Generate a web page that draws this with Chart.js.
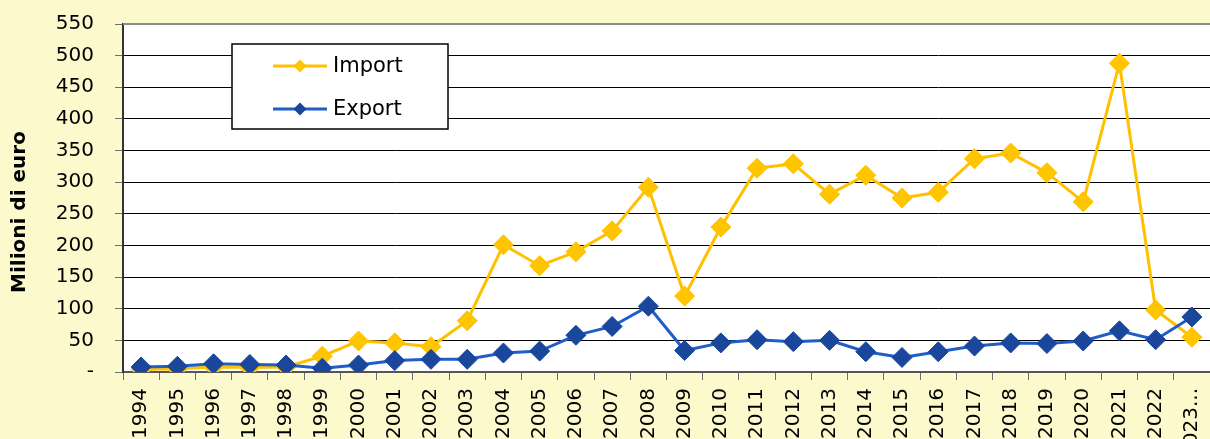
<!DOCTYPE html>
<html>
<head>
<meta charset="utf-8">
<script src="https://cdn.jsdelivr.net/npm/chart.js@4/dist/chart.umd.min.js"></script>
<style>
  html, body { margin: 0; padding: 0; background: #FCFACD; overflow: hidden; }
  #wrap { width: 1210px; height: 439px; }
</style>
</head>
<body>
<div id="wrap"><canvas id="c" width="1210" height="439"></canvas></div>
<script>
// Anni (asse delle categorie)
const years = ['1994','1995','1996','1997','1998','1999','2000','2001','2002','2003',
  '2004','2005','2006','2007','2008','2009','2010','2011','2012','2013',
  '2014','2015','2016','2017','2018','2019','2020','2021','2022','2023...'];

// Valori in milioni di euro
const importValues = [4, 5, 8, 7, 8, 25, 49, 46, 40, 81,
  201, 168, 190, 223, 292, 120, 229, 322, 329, 281,
  311, 275, 284, 337, 346, 315, 269, 488, 98, 55];
const exportValues = [8, 9, 13, 12, 11, 6, 11, 18, 20, 20,
  30, 33, 58, 72, 104, 34, 46, 51, 48, 50,
  32, 23, 32, 41, 46, 45, 49, 65, 51, 87];

const seriesNames = ['Import', 'Export'];
const yTitle = 'Milioni di euro';

const FONT = 'DejaVu Sans';

// Sfondo giallo della figura, area del grafico bianca e titolo dell'asse Y
const backgroundPlugin = {
  id: 'bg',
  beforeDraw(chart) {
    const { ctx, chartArea: a } = chart;
    ctx.save();
    ctx.fillStyle = '#FCFACD';
    ctx.fillRect(0, 0, chart.width, chart.height);
    ctx.fillStyle = '#FFFFFF';
    ctx.fillRect(a.left, a.top, a.right - a.left, a.bottom - a.top);
    ctx.restore();
  },
  afterDatasetsDraw(chart) {
    const { ctx, chartArea: a } = chart;
    ctx.save();
    // bordo superiore dell'area del grafico
    ctx.strokeStyle = '#8C8C8C';
    ctx.lineWidth = 2;
    ctx.beginPath();
    ctx.moveTo(a.left, a.top);
    ctx.lineTo(a.right, a.top);
    ctx.stroke();
    // titolo verticale dell'asse Y
    ctx.translate(20, 212);
    ctx.rotate(-Math.PI / 2);
    ctx.fillStyle = '#000000';
    ctx.font = 'bold 20px "' + FONT + '"';
    ctx.textAlign = 'center';
    ctx.textBaseline = 'middle';
    ctx.fillText(yTitle, 0, 0);
    ctx.restore();
  }
};

// Legenda in riquadro dentro l'area del grafico
const boxLegendPlugin = {
  id: 'boxLegend',
  afterDraw(chart) {
    const { ctx } = chart;
    const x0 = 232, y0 = 44, w = 216, h = 85;
    ctx.save();
    ctx.fillStyle = '#FFFFFF';
    ctx.fillRect(x0, y0, w, h);
    ctx.strokeStyle = '#000000';
    ctx.lineWidth = 1.5;
    ctx.strokeRect(x0, y0, w, h);
    const rows = [66, 109];
    chart.data.datasets.forEach((ds, i) => {
      const y = rows[i];
      ctx.strokeStyle = ds.borderColor;
      ctx.lineWidth = 3;
      ctx.beginPath();
      ctx.moveTo(273, y);
      ctx.lineTo(327, y);
      ctx.stroke();
      const r = 6.5;
      ctx.fillStyle = ds.pointBackgroundColor;
      ctx.beginPath();
      ctx.moveTo(300 - r, y);
      ctx.lineTo(300, y - r);
      ctx.lineTo(300 + r, y);
      ctx.lineTo(300, y + r);
      ctx.closePath();
      ctx.fill();
      ctx.fillStyle = '#000000';
      ctx.font = '21px "' + FONT + '"';
      ctx.textBaseline = 'middle';
      ctx.textAlign = 'left';
      ctx.fillText(ds.label, 333, y + 1);
    });
    ctx.restore();
  }
};

new Chart(document.getElementById('c'), {
  type: 'line',
  data: {
    labels: years,
    datasets: [
      {
        label: seriesNames[0],
        data: importValues,
        borderColor: '#FFC000',
        backgroundColor: '#FFC600',
        pointBackgroundColor: '#FFC600',
        pointBorderColor: '#FFC000',
        borderWidth: 3,
        pointStyle: 'rectRot',
        pointRadius: 10,
        pointBorderWidth: 1,
        tension: 0,
        order: 1
      },
      {
        label: seriesNames[1],
        data: exportValues,
        borderColor: '#1F5EC8',
        backgroundColor: '#1A479C',
        pointBackgroundColor: '#1A479C',
        pointBorderColor: '#1A479C',
        borderWidth: 3,
        pointStyle: 'rectRot',
        pointRadius: 10,
        pointBorderWidth: 1,
        tension: 0,
        order: 0
      }
    ]
  },
  options: {
    responsive: false,
    animation: false,
    layout: { autoPadding: false, padding: { top: 24, right: 0, left: 0, bottom: 0 } },
    plugins: {
      legend: { display: false },
      tooltip: { enabled: false }
    },
    scales: {
      x: {
        offset: true,
        grid: {
          offset: true,
          drawOnChartArea: false,
          drawTicks: true,
          tickLength: 8,
          color: '#6E6E6E',
          lineWidth: 1
        },
        border: { color: '#555555', width: 2 },
        ticks: {
          autoSkip: false,
          minRotation: 90,
          maxRotation: 90,
          padding: 8,
          color: '#000000',
          font: { family: FONT, size: 20 }
        },
        afterFit(scale) {
          scale.height = 67;
          scale.paddingLeft = 0;
          scale.paddingRight = 0;
        }
      },
      y: {
        min: 0,
        max: 550,
        grid: {
          color: '#000000',
          lineWidth: 1,
          tickLength: 8,
          tickColor: '#6E6E6E'
        },
        border: { color: '#333333', width: 2 },
        ticks: {
          stepSize: 50,
          padding: 21,
          color: '#000000',
          font: { family: FONT, size: 20 },
          callback: (v) => (v === 0 ? '-' : String(v))
        },
        afterFit(scale) {
          scale.width = 123;
          scale.paddingTop = 0;
          scale.paddingBottom = 0;
        }
      }
    }
  },
  plugins: [backgroundPlugin, boxLegendPlugin]
});
</script>
</body>
</html>
